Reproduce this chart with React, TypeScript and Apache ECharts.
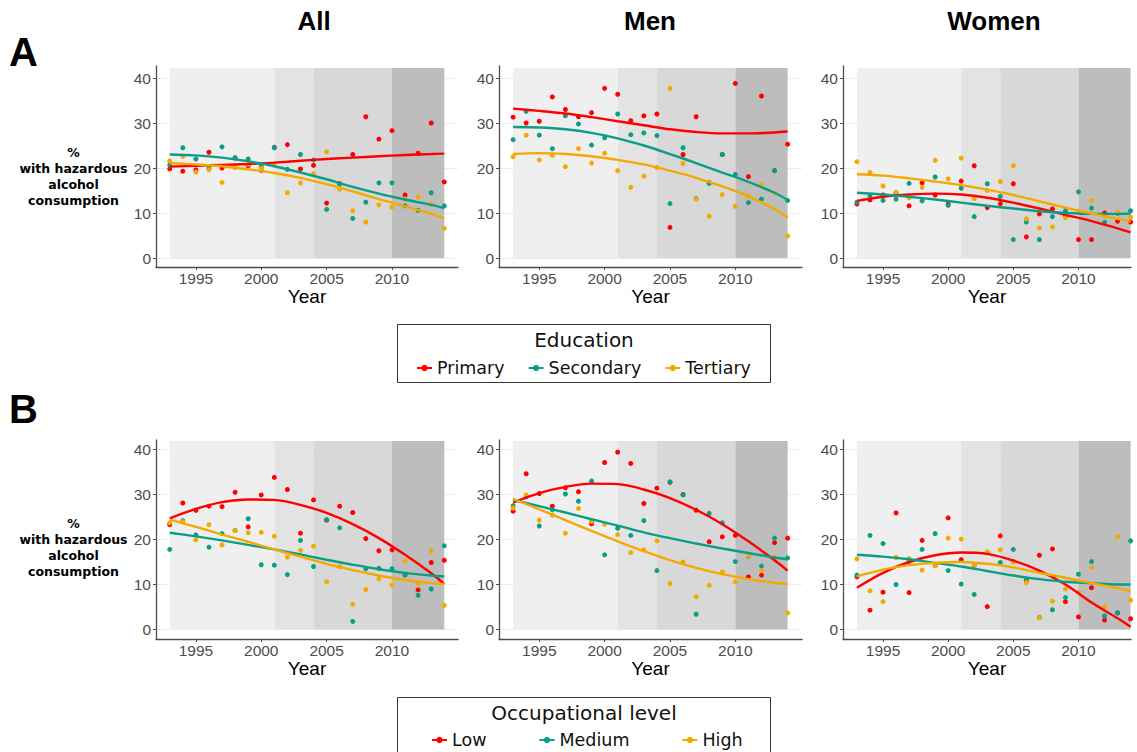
import React, { useEffect, useRef } from 'react';
import * as echarts from 'echarts';

// ---------- data ----------
const YEARS = [1993, 1994, 1995, 1996, 1997, 1998, 1999, 2000, 2001, 2002, 2003, 2004, 2005, 2006, 2007, 2008, 2009, 2010, 2011, 2012, 2013, 2014];
const FIT_YEARS = [1993, 1995, 1997, 1999, 2001, 2003, 2005, 2007, 2009, 2011, 2013, 2014];
const EDU_GROUPS = ['Primary', 'Secondary', 'Tertiary'];
const OCC_GROUPS = ['Low', 'Medium', 'High'];
const GROUP_COLORS = ['#ff0000', '#0b9e87', '#f4a900'];
const PANEL_TITLES = ['All', 'Men', 'Women'];
const ROW_LETTERS = ['A', 'B'];
const LEGEND_TITLES = ['Education', 'Occupational level'];
const X_TICKS = [1995, 2000, 2005, 2010];
const Y_TICKS = [0, 10, 20, 30, 40];
const BAND_EDGES = [1993, 2001, 2004, 2010, 2014];
const BAND_COLORS = ['#efefef', '#e3e3e3', '#d8d8d8', '#bdbdbd'];
const Y_LABEL = '%\nwith hazardous\nalcohol\nconsumption';

// Panel A: education
const aAllPrimary = [19.8, 19.3, 19.6, 23.5, 20.0, 22.2, 20.5, 19.5, 24.6, 25.2, 19.8, 20.6, 12.2, 16.5, 23.0, 31.4, 26.4, 28.3, 14.0, 23.3, 30.0, 16.9];
const aAllSecondary = [20.7, 24.5, 22.0, 19.9, 24.7, 22.3, 22.0, 20.3, 24.5, 19.7, 23.0, 21.8, 10.8, 16.4, 8.8, 12.4, 16.7, 16.7, 11.6, 10.6, 14.5, 11.6];
const aAllTertiary = [21.6, 22.6, 19.1, 19.6, 16.8, 20.1, 20.8, 19.9, 20.9, 14.5, 16.7, 18.7, 23.6, 15.3, 10.5, 8.0, 11.8, 11.3, 13.1, 13.6, 12.0, 6.6];
const aAllPrimaryFit = [20.3, 20.5, 20.7, 20.9, 21.2, 21.6, 22.0, 22.3, 22.6, 22.9, 23.1, 23.2];
const aAllSecondaryFit = [23.0, 22.8, 22.3, 21.5, 20.4, 19.0, 17.5, 15.8, 14.3, 13.0, 11.8, 11.1];
const aAllTertiaryFit = [21.1, 20.8, 20.4, 19.7, 18.9, 17.8, 16.4, 14.8, 13.1, 11.5, 9.8, 8.8];

const aMenPrimary = [31.3, 30.0, 30.4, 35.8, 33.0, 31.4, 32.3, 37.7, 36.4, 30.5, 31.6, 32.0, 6.8, 23.0, 31.4, 16.7, 23.0, 38.8, 18.1, 36.0, 19.4, 25.3];
const aMenSecondary = [26.3, 32.6, 27.3, 24.3, 31.6, 29.8, 25.1, 26.7, 32.0, 27.4, 27.8, 27.2, 12.1, 24.5, 13.2, 16.6, 23.0, 18.6, 12.3, 13.1, 19.4, 12.8];
const aMenTertiary = [22.5, 27.3, 21.8, 22.8, 20.3, 24.3, 21.1, 23.3, 19.4, 15.7, 18.2, 20.1, 37.7, 21.0, 13.1, 9.3, 14.1, 11.5, 13.8, 16.3, 14.4, 4.9];
const aMenPrimaryFit = [33.2, 32.7, 32.1, 31.3, 30.4, 29.5, 28.6, 28.0, 27.7, 27.7, 27.9, 28.1];
const aMenSecondaryFit = [29.1, 29.0, 28.6, 27.8, 26.6, 25.0, 23.1, 21.1, 19.0, 16.9, 14.5, 12.9];
const aMenTertiaryFit = [23.1, 23.3, 23.1, 22.6, 21.8, 20.8, 19.4, 17.8, 15.9, 13.7, 10.9, 9.0];

const aWomenPrimary = [12.0, 12.9, 14.0, 14.5, 11.6, 16.7, 14.0, 12.0, 17.1, 20.5, 11.2, 12.1, 16.5, 4.7, 9.8, 10.9, 9.5, 4.1, 4.1, 10.0, 8.2, 8.0];
const aWomenSecondary = [12.4, 13.9, 12.8, 13.1, 16.6, 12.7, 18.0, 11.7, 15.5, 9.2, 16.5, 13.7, 4.1, 8.0, 4.1, 9.2, 10.5, 14.7, 11.1, 7.9, 9.9, 10.5];
const aWomenTertiary = [21.4, 19.0, 16.0, 14.6, 13.4, 15.7, 21.7, 17.6, 22.2, 13.2, 15.0, 17.0, 20.5, 8.7, 6.7, 6.9, 9.0, 10.4, 12.8, 9.3, 10.2, 9.1];
const aWomenPrimaryFit = [12.7, 13.6, 14.1, 14.3, 14.1, 13.4, 12.3, 11.0, 9.6, 8.2, 6.6, 5.7];
const aWomenSecondaryFit = [14.5, 14.1, 13.6, 13.0, 12.3, 11.6, 11.0, 10.4, 10.0, 9.8, 9.8, 9.9];
const aWomenTertiaryFit = [18.6, 18.3, 17.7, 17.0, 16.2, 15.2, 14.0, 12.6, 11.2, 9.9, 8.7, 8.1];

// Panel B: occupational level
const bAllLow = [23.3, 28.1, 26.5, 27.4, 27.3, 30.5, 22.8, 29.9, 33.8, 31.1, 21.4, 28.8, 24.3, 27.4, 26.0, 20.2, 17.5, 17.7, 12.2, 8.8, 14.9, 15.4];
const bAllMedium = [17.8, 24.2, 21.0, 18.3, 21.3, 22.0, 24.6, 14.4, 14.3, 12.2, 19.8, 14.0, 24.4, 22.6, 1.8, 13.5, 13.6, 13.5, 12.1, 7.6, 9.0, 18.6];
const bAllHigh = [23.7, 24.0, 19.9, 23.3, 18.8, 22.0, 21.5, 21.6, 20.7, 16.1, 17.6, 18.5, 10.6, 14.0, 5.6, 8.9, 11.3, 9.9, 15.3, 10.3, 17.5, 5.4];
const bAllLowFit = [24.7, 26.8, 28.3, 28.9, 28.8, 27.7, 25.9, 23.4, 20.3, 16.6, 12.5, 10.1];
const bAllMediumFit = [21.5, 20.7, 19.8, 18.8, 17.8, 16.7, 15.5, 14.4, 13.4, 12.6, 12.0, 11.8];
const bAllHighFit = [24.4, 22.8, 21.1, 19.5, 17.8, 16.2, 14.6, 13.2, 12.0, 11.0, 10.3, 10.1];

const bMenLow = [26.3, 34.6, 30.2, 27.4, 31.5, 30.6, 23.5, 37.1, 39.4, 36.9, 28.0, 31.4, 32.7, 30.0, 26.5, 19.5, 20.6, 20.9, 11.7, 12.1, 19.3, 20.3];
const bMenMedium = [27.5, 29.5, 23.0, 26.6, 30.1, 28.5, 33.0, 16.6, 22.5, 20.9, 24.2, 13.1, 32.8, 29.9, 3.4, 25.8, 23.7, 15.1, 16.3, 14.1, 20.3, 15.9];
const bMenHigh = [27.0, 29.9, 24.3, 25.4, 21.4, 26.9, 24.0, 23.4, 21.1, 17.1, 17.7, 19.7, 10.2, 15.0, 7.3, 9.8, 12.8, 10.6, 16.4, 13.1, 16.1, 3.7];
const bMenLowFit = [28.2, 30.3, 31.7, 32.4, 32.3, 31.1, 29.2, 26.6, 23.4, 19.6, 15.4, 13.1];
const bMenMediumFit = [28.8, 27.4, 26.0, 24.5, 23.1, 21.6, 20.3, 19.1, 18.0, 17.0, 16.0, 15.6];
const bMenHighFit = [29.0, 26.7, 24.3, 21.9, 19.6, 17.4, 15.4, 13.7, 12.3, 11.2, 10.4, 10.1];

const bWomenLow = [11.7, 4.3, 8.3, 25.9, 8.2, 19.8, 14.2, 24.8, 15.5, 14.3, 5.1, 20.8, 15.1, 10.9, 16.5, 17.9, 6.2, 2.8, 9.3, 2.1, 3.7, 2.4];
const bWomenMedium = [12.1, 20.9, 19.1, 10.0, 15.1, 17.8, 21.3, 13.1, 10.1, 7.8, 17.1, 14.9, 17.8, 11.0, 2.7, 4.4, 7.1, 12.3, 15.1, 3.0, 3.7, 19.7];
const bWomenHigh = [15.7, 8.6, 6.2, 16.0, 15.8, 13.2, 14.2, 20.3, 20.1, 14.4, 17.3, 17.7, 15.0, 10.4, 2.6, 6.3, 9.0, 8.3, 13.8, 5.0, 20.6, 6.5];
const bWomenLowFit = [9.3, 12.6, 15.0, 16.5, 17.1, 16.8, 15.3, 13.1, 10.0, 6.0, 2.5, 0.6];
const bWomenMediumFit = [16.6, 16.2, 15.6, 14.8, 14.0, 13.0, 12.0, 11.2, 10.6, 10.3, 10.0, 10.0];
const bWomenHighFit = [11.8, 13.3, 14.3, 14.8, 15.0, 14.6, 13.8, 12.6, 11.5, 10.3, 9.2, 8.5];

const PANELS = [
  { row: 0, col: 0, points: [aAllPrimary, aAllSecondary, aAllTertiary], fits: [aAllPrimaryFit, aAllSecondaryFit, aAllTertiaryFit] },
  { row: 0, col: 1, points: [aMenPrimary, aMenSecondary, aMenTertiary], fits: [aMenPrimaryFit, aMenSecondaryFit, aMenTertiaryFit] },
  { row: 0, col: 2, points: [aWomenPrimary, aWomenSecondary, aWomenTertiary], fits: [aWomenPrimaryFit, aWomenSecondaryFit, aWomenTertiaryFit] },
  { row: 1, col: 0, points: [bAllLow, bAllMedium, bAllHigh], fits: [bAllLowFit, bAllMediumFit, bAllHighFit] },
  { row: 1, col: 1, points: [bMenLow, bMenMedium, bMenHigh], fits: [bMenLowFit, bMenMediumFit, bMenHighFit] },
  { row: 1, col: 2, points: [bWomenLow, bWomenMedium, bWomenHigh], fits: [bWomenLowFit, bWomenMediumFit, bWomenHighFit] },
];

// ---------- layout ----------
const COL_LAYOUT = [
  { left: 156, width: 302, xMin: 1991.95, xMax: 2015.05 },
  { left: 499, width: 303, xMin: 1991.92, xMax: 2015.1 },
  { left: 843, width: 288, xMin: 1991.93, xMax: 2014.03 },
];
const ROW_LAYOUT = [
  { top: 66, height: 201, yMin: -2, yMax: 42.67, bandTop: 42.2 },
  { top: 440, height: 199, yMin: -2.1, yMax: 42.1, bandTop: 41.9 },
];

const TICK_FONT = { color: '#4d4d4d', fontSize: 15.5, fontFamily: 'Liberation Sans, Arial, sans-serif' };
const plain = (v: number) => String(v);

function buildOption() {
  const grid: any[] = [];
  const xAxis: any[] = [];
  const yAxis: any[] = [];
  const series: any[] = [];

  PANELS.forEach((p, i) => {
    const c = COL_LAYOUT[p.col];
    const r = ROW_LAYOUT[p.row];
    const names = p.row === 0 ? EDU_GROUPS : OCC_GROUPS;
    grid.push({ left: c.left, top: r.top, width: c.width, height: r.height, containLabel: false, outerBoundsMode: 'none' });
    xAxis.push({
      type: 'value', gridIndex: i, min: c.xMin, max: c.xMax,
      name: 'Year', nameLocation: 'middle', nameGap: 11,
      nameTextStyle: { color: '#000', fontSize: 19, fontFamily: 'Liberation Sans, Arial, sans-serif' },
      axisLine: { show: true, onZero: false, lineStyle: { color: '#4d4d4d', width: 1.3 } },
      axisTick: { show: true, customValues: X_TICKS, length: 3, lineStyle: { color: '#4d4d4d' } },
      axisLabel: { show: true, customValues: X_TICKS, margin: 3, formatter: plain, ...TICK_FONT },
      splitLine: { show: false },
    });
    yAxis.push({
      type: 'value', gridIndex: i, min: r.yMin, max: r.yMax,
      axisLine: { show: true, onZero: false, lineStyle: { color: '#4d4d4d', width: 1.3 } },
      axisTick: { show: true, customValues: Y_TICKS, length: 3, lineStyle: { color: '#4d4d4d' } },
      axisLabel: { show: true, customValues: Y_TICKS, margin: 5, formatter: plain, ...TICK_FONT },
      splitLine: { show: true, lineStyle: { color: '#ececec', width: 1 } },
    });
    const bands = BAND_COLORS.map((col, k) => [
      { xAxis: BAND_EDGES[k], yAxis: 0, itemStyle: { color: col, opacity: 1 } },
      { xAxis: BAND_EDGES[k + 1], yAxis: r.bandTop },
    ]);
    series.push({
      type: 'line', xAxisIndex: i, yAxisIndex: i, data: [], silent: true, z: 1,
      markArea: { silent: true, data: bands },
    });
    names.forEach((nm, k) => {
      series.push({
        type: 'line', name: nm, xAxisIndex: i, yAxisIndex: i, z: 4,
        data: FIT_YEARS.map((y, j) => [y, p.fits[k][j]]),
        smooth: 0.35, symbol: 'circle', symbolSize: 6, showSymbol: false,
        lineStyle: { color: GROUP_COLORS[k], width: 2.4 },
        itemStyle: { color: GROUP_COLORS[k] },
      });
    });
    names.forEach((nm, k) => {
      series.push({
        type: 'scatter', name: nm, xAxisIndex: i, yAxisIndex: i, z: 3,
        data: YEARS.map((y, j) => [y, p.points[k][j]]),
        symbol: 'circle', symbolSize: 5,
        itemStyle: { color: GROUP_COLORS[k], opacity: 1 },
      });
    });
  });

  const graphic: any[] = [];
  PANEL_TITLES.forEach((t, k) => {
    const c = COL_LAYOUT[k];
    graphic.push({
      type: 'text', x: c.left + 151 + (k === 0 ? 7 : 0), y: 21,
      style: { text: t, fill: '#000', font: 'bold 26px "Liberation Sans", Arial, sans-serif', textAlign: 'center', textVerticalAlign: 'middle' },
    });
  });
  ROW_LETTERS.forEach((t, k) => {
    graphic.push({
      type: 'text', x: 9, y: k === 0 ? 52 : 409,
      style: { text: t, fill: '#000', font: 'bold 40px "Liberation Sans", Arial, sans-serif', textAlign: 'left', textVerticalAlign: 'middle' },
    });
    graphic.push({
      type: 'text', x: 73.5, y: k === 0 ? 176 : 547,
      style: { text: Y_LABEL, fill: '#000', font: 'bold 12.5px "DejaVu Sans", Verdana, sans-serif', lineHeight: 16, textAlign: 'center', textVerticalAlign: 'middle' },
    });
  });
  LEGEND_TITLES.forEach((t, k) => {
    const top = k === 0 ? 324 : 697;
    graphic.push({
      type: 'rect', shape: { x: 397.5, y: top + 0.5, width: 373, height: 58 },
      style: { fill: '#fff', stroke: '#333', lineWidth: 1 }, z: 0,
    });
    graphic.push({
      type: 'text', x: 584, y: top + 16, z: 1,
      style: { text: t, fill: '#111', font: '20px "DejaVu Sans", Verdana, sans-serif', textAlign: 'center', textVerticalAlign: 'middle' },
    });
  });

  const legendText = { fontSize: 17.5, fontFamily: 'DejaVu Sans, Verdana, sans-serif', color: '#111' };
  const legend = [
    { data: EDU_GROUPS, left: 411, top: 354, itemWidth: 15, itemHeight: 8, itemGap: 23, selectedMode: false, textStyle: legendText, z: 5 },
    { data: OCC_GROUPS, left: 426, top: 726, itemWidth: 15, itemHeight: 8, itemGap: 52, selectedMode: false, textStyle: legendText, z: 5 },
  ];

  return { animation: false, backgroundColor: '#fff', grid, xAxis, yAxis, series, graphic, legend };
}

export default function App() {
  const ref = useRef<HTMLDivElement>(null);
  useEffect(() => {
    document.body.style.margin = '0';
    const chart = echarts.init(ref.current!, null, { renderer: 'svg' });
    chart.setOption(buildOption() as any);
    return () => chart.dispose();
  }, []);
  return <div ref={ref} style={{ width: 1137, height: 752 }} />;
}
